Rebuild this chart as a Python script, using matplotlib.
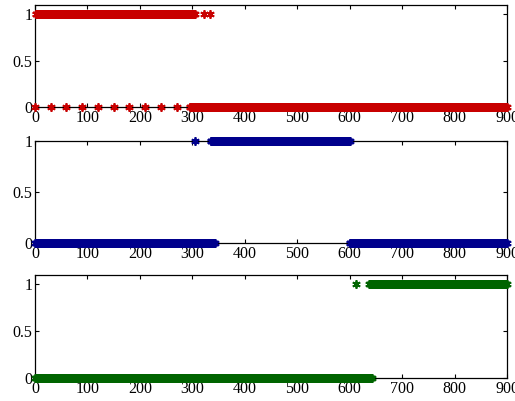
import numpy as np
import matplotlib
matplotlib.use("Agg")
import matplotlib.pyplot as plt

# runs of (first x, last x, value)
red_runs = [(1, 305, 1), (295, 900, 0)]
red_extra_x = [0, 30, 60, 90, 120, 150, 180, 210, 240, 270, 322, 334]
red_extra_y = [0, 0, 0, 0, 0, 0, 0, 0, 0, 0, 1, 1]

blue_runs = [(0, 343, 0), (335, 600, 1), (600, 900, 0)]
blue_extra_x = [306]
blue_extra_y = [1]

green_runs = [(0, 642, 0), (637, 900, 1)]
green_extra_x = [612]
green_extra_y = [1]

xticks = [0, 100, 200, 300, 400, 500, 600, 700, 800, 900]
yticks = [0, 0.5, 1]


def expand(runs, ex_x, ex_y, skip=()):
    xs, ys = [], []
    for a, b, v in runs:
        for x in range(a, b + 1):
            if v == 1 and x in skip:
                continue
            xs.append(x)
            ys.append(v)
    return np.array(xs + ex_x), np.array(ys + ex_y)


plt.rcParams['font.family'] = ['Liberation Serif']

fig = plt.figure(figsize=(5.15, 4.01), dpi=100)

panels = [
    (red_runs, red_extra_x, red_extra_y, "#c80000", 1.1, [0.068, 0.733, 0.9165, 0.2544]),
    (blue_runs, blue_extra_x, blue_extra_y, "#00008c", 1.0, [0.068, 0.394, 0.9165, 0.2544]),
    (green_runs, green_extra_x, green_extra_y, "#006400", 1.1, [0.068, 0.0574, 0.9165, 0.257]),
]

for runs, ex_x, ex_y, col, ytop, pos in panels:
    ax = fig.add_axes(pos)
    skip = set(red_extra_x[:10]) if col == "#c80000" else ()
    x, y = expand(runs, ex_x, ex_y, skip)
    ax.plot(x, y, linestyle='none', marker=(6, 2, 0), color=col, markersize=6,
            markeredgewidth=1.3, clip_on=False, zorder=3)
    ax.set_xlim(0, 900)
    ax.set_ylim(0, ytop)
    ax.set_xticks(xticks)
    ax.set_yticks(yticks)
    ax.set_yticklabels(["0", "0.5", "1"])
    ax.tick_params(direction='in', top=True, right=True, length=3, width=0.8,
                   labelsize=11.5, pad=2)
    for s in ax.spines.values():
        s.set_linewidth(0.9)

fig.savefig("out.png", dpi=100)
